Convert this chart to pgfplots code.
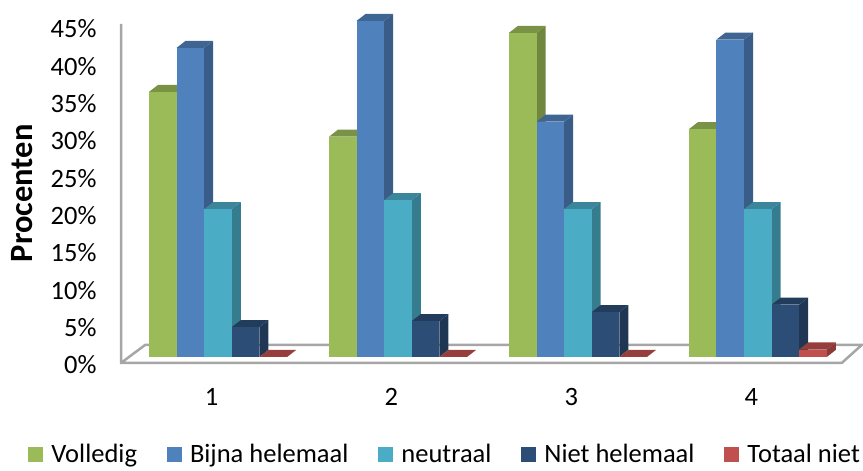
\documentclass[border=0pt]{standalone}
\usepackage{fontspec}
\setmainfont{Carlito}
\usepackage{pgfplots}
\pgfplotsset{compat=1.18}

\definecolor{cGreen}{HTML}{9BBB59}
\definecolor{cBlue}{HTML}{4F81BD}
\definecolor{cCyan}{HTML}{4BACC6}
\definecolor{cNavy}{HTML}{2C4D75}
\definecolor{cRed}{HTML}{C0504D}
\definecolor{cWall}{HTML}{A6A6A6}

% one 3D column: group, slot (0-4), value, colour
\newcommand{\column}[4]{%
  \pgfmathsetmacro{\xa}{#1-0.347+#2*0.1533}
  \pgfmathsetmacro{\xb}{\xa+0.1533}
  \pgfmathsetmacro{\xc}{\xb+0.05}
  \pgfmathsetmacro{\xd}{\xa+0.05}
  \pgfmathsetmacro{\yt}{#3+0.94}
  \pgfmathsetmacro{\yb}{0.94}
  \addplot[forget plot,draw=none,fill=#4!72!black] coordinates {(\xb,0)(\xc,\yb)(\xc,\yt)(\xb,#3)} --cycle;
  \addplot[forget plot,draw=none,fill=#4!78!black] coordinates {(\xa,#3)(\xb,#3)(\xc,\yt)(\xd,\yt)} --cycle;
  \addplot[forget plot,draw=none,fill=#4] coordinates {(\xa,0)(\xb,0)(\xb,#3)(\xa,#3)} --cycle;
}

\begin{document}
\begin{tikzpicture}
\begin{axis}[
  width=863pt, height=470pt, scale only axis,
  xmin=-0.175, xmax=4.62, ymin=-15.13, ymax=47.79,
  clip=false,
  axis line style={draw=none},
  major tick length=0pt,
  xtick={1,2,3,4},
  ytick={0,5,...,45},
  yticklabel={\pgfmathprintnumber{\tick}\%},
  /pgf/number format/assume math mode=true,
  tick label style={font=\fontsize{26.5}{30}\selectfont},
  xticklabel style={yshift=85pt},
  yticklabel style={xshift=100pt,yshift=-8pt},
  ylabel={\textbf{Procenten}},
  ylabel style={at={(axis description cs:0.0255,0.589)},anchor=center,font=\fontsize{32.5}{34}\selectfont},
  legend columns=5,
  legend cell align=left,
  legend style={at={(axis description cs:0.0325,0.008)},anchor=south west,draw=none,fill=none,
    font=\fontsize{26.5}{30}\selectfont,inner sep=0pt,
    /tikz/every even column/.append style={column sep=28pt},
    /tikz/every odd column/.append style={column sep=7pt}},
]
\addlegendimage{only marks,mark=square*,mark size=7pt,color=cGreen}
\addlegendentry{Volledig}
\addlegendimage{only marks,mark=square*,mark size=7pt,color=cBlue}
\addlegendentry{Bijna helemaal}
\addlegendimage{only marks,mark=square*,mark size=7pt,color=cCyan}
\addlegendentry{neutraal}
\addlegendimage{only marks,mark=square*,mark size=7pt,color=cNavy}
\addlegendentry{Niet helemaal}
\addlegendimage{only marks,mark=square*,mark size=7pt,color=cRed}
\addlegendentry{Totaal niet}

% walls and floor
\addplot[forget plot,cWall,line width=2.5pt] coordinates {(0.497,44.6)(0.497,-0.8)(4.503,-0.8)(4.614,1.61)(0.631,1.61)(0.497,-0.8)};

\column{1}{0}{35.5}{cGreen}
\column{1}{1}{41.4}{cBlue}
\column{1}{2}{19.8}{cCyan}
\column{1}{3}{4}{cNavy}
\column{1}{4}{0}{cRed}

\column{2}{0}{29.5}{cGreen}
\column{2}{1}{45}{cBlue}
\column{2}{2}{21}{cCyan}
\column{2}{3}{4.8}{cNavy}
\column{2}{4}{0}{cRed}

\column{3}{0}{43.4}{cGreen}
\column{3}{1}{31.5}{cBlue}
\column{3}{2}{19.8}{cCyan}
\column{3}{3}{6}{cNavy}
\column{3}{4}{0}{cRed}

\column{4}{0}{30.5}{cGreen}
\column{4}{1}{42.5}{cBlue}
\column{4}{2}{19.8}{cCyan}
\column{4}{3}{7}{cNavy}
\column{4}{4}{1}{cRed}
\end{axis}
\end{tikzpicture}
\end{document}
